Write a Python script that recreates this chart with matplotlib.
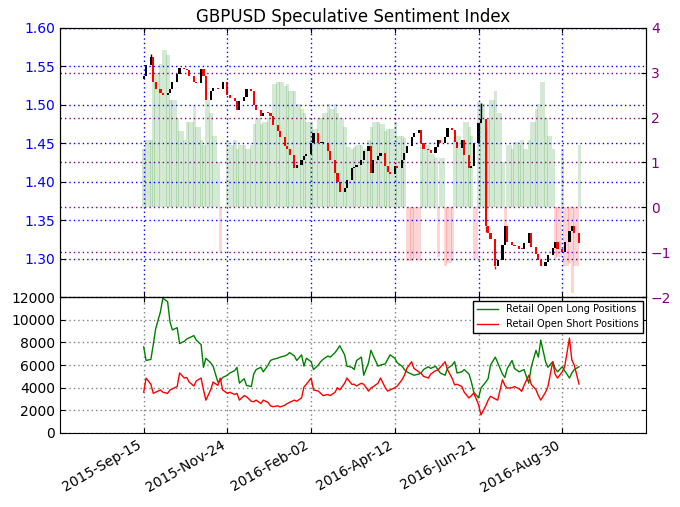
import numpy as np
import pandas as pd
import matplotlib
matplotlib.use('Agg')
import matplotlib.pyplot as plt
import matplotlib.dates as mdates

# every second business day, 2015-09-15 .. 2016-09-13
dates = pd.bdate_range('2015-09-15', '2016-09-13', freq='2B')

first_open = 1.533
close = [
    1.537, 1.552, 1.562, 1.530, 1.520, 1.516, 1.513, 1.515, 1.520, 1.530,
    1.540, 1.548, 1.547, 1.545, 1.538, 1.530, 1.528, 1.546, 1.538, 1.506,
    1.518, 1.522, 1.521, 1.520, 1.530, 1.513, 1.509, 1.505, 1.493, 1.505,
    1.510, 1.520, 1.518, 1.500, 1.493, 1.485, 1.490, 1.489, 1.486, 1.474,
    1.466, 1.458, 1.446, 1.443, 1.435, 1.418, 1.422, 1.428, 1.434, 1.436,
    1.450, 1.463, 1.450, 1.450, 1.450, 1.440, 1.428, 1.411, 1.399, 1.387,
    1.392, 1.402, 1.418, 1.419, 1.422, 1.428, 1.440, 1.446, 1.411, 1.428,
    1.434, 1.437, 1.420, 1.412, 1.410, 1.420, 1.418, 1.428, 1.437, 1.447,
    1.458, 1.463, 1.467, 1.450, 1.443, 1.441, 1.437, 1.445, 1.454, 1.450,
    1.458, 1.470, 1.467, 1.452, 1.444, 1.454, 1.435, 1.418, 1.420, 1.450,
    1.476, 1.482, 1.343, 1.333, 1.325, 1.290, 1.298, 1.318, 1.343, 1.322,
    1.318, 1.316, 1.313, 1.312, 1.320, 1.333, 1.315, 1.306, 1.298, 1.290,
    1.296, 1.305, 1.314, 1.322, 1.312, 1.308, 1.322, 1.336, 1.342, 1.333,
    1.320,
]
wick_high = {2: 1.566, 101: 1.502}
wick_low = {102: 1.335, 105: 1.286}

ssi = [
    1.3, 1.5, 1.5, 2.8, 3.0, 3.2, 3.5, 3.4, 2.4, 2.4,
    2.0, 1.7, 1.5, 1.9, 1.9, 2.25, 1.8, 1.5, 1.4, 2.4,
    2.1, 1.6, 1.0, -1.0, 0.0, 1.5, 1.4, 1.5, 1.3, 1.4,
    1.4, 1.3, 1.4, 1.85, 2.0, 1.85, 1.9, 2.0, 2.1, 2.75,
    2.8, 2.8, 2.7, 2.75, 2.6, 2.6, 2.3, 2.2, 2.1, 1.9,
    1.9, 1.75, 2.0, 2.0, 2.1, 2.3, 2.2, 2.3, 2.1, 2.0,
    1.8, 1.35, 1.3, 1.35, 1.4, 1.4, 1.3, 1.5, 1.8, 1.9,
    1.9, 1.85, 1.7, 1.75, 1.75, 1.9, 1.6, 1.6, 1.55, -1.2,
    -1.2, -1.15, -1.2, 1.4, 1.3, 1.4, 1.2, 1.1, -1.1, 1.1,
    -1.3, -1.25, -1.2, 1.5, 1.6, 1.4, 1.9, 1.8, 1.6, -1.15,
    2.35, 2.3, 1.8, 2.0, 2.4, 2.6, 2.1, 1.0, -0.55, 1.4,
    1.3, 1.45, 1.4, 1.5, 1.3, 1.5, 1.9, 2.2, 2.3, 2.8,
    2.0, 1.6, 1.3, -1.15, -1.1, 1.3, -1.3, -1.25, -1.9, -1.3,
    1.4,
]

long_pos = [
    7600, 6400, 6500, 7800, 9200, 10700, 11900, 11600, 9800, 9100,
    9300, 7900, 8100, 8300, 8400, 8600, 8200, 7800, 5800, 6600,
    6200, 5900, 4500, 4600, 4900, 5100, 5300, 5500, 5800, 4400,
    4800, 4200, 4100, 5200, 5600, 5800, 5400, 6000, 6400, 6500,
    6600, 6700, 6800, 6900, 7100, 6800, 6400, 6900, 5900, 6600,
    6300, 5600, 6000, 6300, 6500, 6800, 6700, 7100, 7400, 7700,
    6900, 5900, 5800, 5600, 6400, 6700, 5100, 6200, 7300, 6800,
    5900, 6000, 6100, 6500, 6900, 6600, 6200, 5900, 5600, 5400,
    5200, 5100, 5200, 5300, 5600, 5850, 5700, 5900, 5600, 5300,
    5100, 5700, 6000, 6300, 5300, 5400, 5600, 5200, 4500, 3600,
    3100, 3960, 4500, 4800, 6000, 6700, 6200, 5200, 4900, 5700,
    6400, 5700, 5400, 5500, 5600, 4400, 5800, 7300, 6700, 8200,
    6300, 5800, 6300, 5700, 5400, 5850, 5500, 4850, 5300, 5600,
    5850,
]
short_pos = [
    3600, 4850, 4300, 3500, 3600, 3800, 3600, 3500, 3800, 3900,
    4100, 5300, 4850, 4900, 4500, 4150, 4600, 4850, 3800, 2900,
    3800, 4500, 4200, 4850, 3800, 3500, 3600, 3400, 3500, 2900,
    3300, 3200, 2800, 2760, 2900, 2600, 2900, 2700, 2400, 2320,
    2400, 2300, 2450, 2600, 2700, 2900, 2800, 3100, 4060, 4300,
    4850, 3800, 3700, 3500, 3300, 3400, 3300, 3600, 4000, 3800,
    4400, 4850, 4300, 4300, 4150, 4400, 4300, 3700, 3970, 4100,
    4400, 4850, 4000, 3700, 3800, 4000, 4150, 4700, 5100, 5700,
    6290, 5700, 5400, 5250, 5000, 4850, 5200, 5500, 5560, 5800,
    6290, 5600, 4800, 4250, 4300, 4100, 3600, 3090, 3300, 3530,
    2500, 1590, 2400, 2900, 3240, 3000, 2900, 4700, 4200, 3960,
    4000, 4100, 3900, 3680, 4200, 5100, 4300, 3820, 3300, 2900,
    3600, 4100, 6290, 5200, 4850, 5400, 5850, 8380, 6440, 6000,
    4320,
]

tick_dates = ['2015-09-15', '2015-11-24', '2016-02-02',
              '2016-04-12', '2016-06-21', '2016-08-30']

x = mdates.date2num(dates)
opens = [first_open] + close[:-1]
dotted = (0, (1, 2.2))

fig = plt.figure(figsize=(6.8, 5.07), dpi=100)
ax = fig.add_axes([0.0882, 0.4142, 0.8618, 0.5306])
ax3 = fig.add_axes([0.0882, 0.146, 0.8618, 0.268], sharex=ax)
ax2 = ax.twinx()
ax.set_zorder(ax2.get_zorder() + 1)
ax.patch.set_visible(False)

# sentiment bars, slightly overlapping so the joins show as faint stripes
bar_w = np.diff(x, append=x[-1] + 2) + 0.7
ssi_colors = ['green' if v >= 0 else 'red' for v in ssi]
ax2.bar(x - 1, ssi, width=bar_w, align='edge', color=ssi_colors,
        alpha=0.17, linewidth=0)
ax2.set_ylim(-2, 4)
ax2.set_yticks(range(-2, 5))
ax2.yaxis.grid(True, color='purple', linestyle=dotted, linewidth=1)
ax2.tick_params(axis='y', labelcolor='purple', direction='in', labelsize=10)

# candles
bottoms = [min(o, c) for o, c in zip(opens, close)]
heights = [max(abs(c - o), 0.0012) for o, c in zip(opens, close)]
cols = ['black' if c >= o else 'red' for o, c in zip(opens, close)]
ax.bar(x, heights, bottom=bottoms, width=1.8, color=cols, linewidth=0)
for i, h in wick_high.items():
    ax.vlines(x[i], max(opens[i], close[i]), h, color=cols[i], linewidth=1)
for i, l in wick_low.items():
    ax.vlines(x[i], l, min(opens[i], close[i]), color=cols[i], linewidth=1)
ax.set_ylim(1.25, 1.60)
ax.set_yticks(np.arange(1.30, 1.601, 0.05))
ax.yaxis.set_major_formatter(plt.FormatStrFormatter('%.2f'))
ax.grid(True, color='blue', linestyle=dotted, linewidth=1)
ax.tick_params(axis='y', labelcolor='blue', direction='in', labelsize=10)
ax.tick_params(axis='x', direction='in', top=True, labelbottom=False)
ax.set_title('GBPUSD Speculative Sentiment Index', fontsize=12, pad=4)

# positions
ax3.plot(x, long_pos, color='green', linewidth=1, label='Retail Open Long Positions')
ax3.plot(x, short_pos, color='red', linewidth=1, label='Retail Open Short Positions')
ax3.set_ylim(0, 12000)
ax3.set_yticks(range(0, 12001, 2000))
ax3.grid(True, color='gray', linestyle=dotted, linewidth=1)
ax3.tick_params(direction='in', top=True, right=True, labelsize=10)
ax3.legend(loc='upper right', fontsize=7, fancybox=False, edgecolor='black',
           framealpha=1, borderaxespad=0.35, handlelength=2.2)

ax3.set_xticks(mdates.date2num(pd.to_datetime(tick_dates)))
ax3.xaxis.set_major_formatter(mdates.DateFormatter('%Y-%b-%d'))
ax3.set_xlim(mdates.date2num(pd.Timestamp('2015-07-07')),
             mdates.date2num(pd.Timestamp('2016-11-08')))
plt.setp(ax3.get_xticklabels(), rotation=30, ha='right')

fig.savefig('out.png', dpi=100, facecolor='white')
